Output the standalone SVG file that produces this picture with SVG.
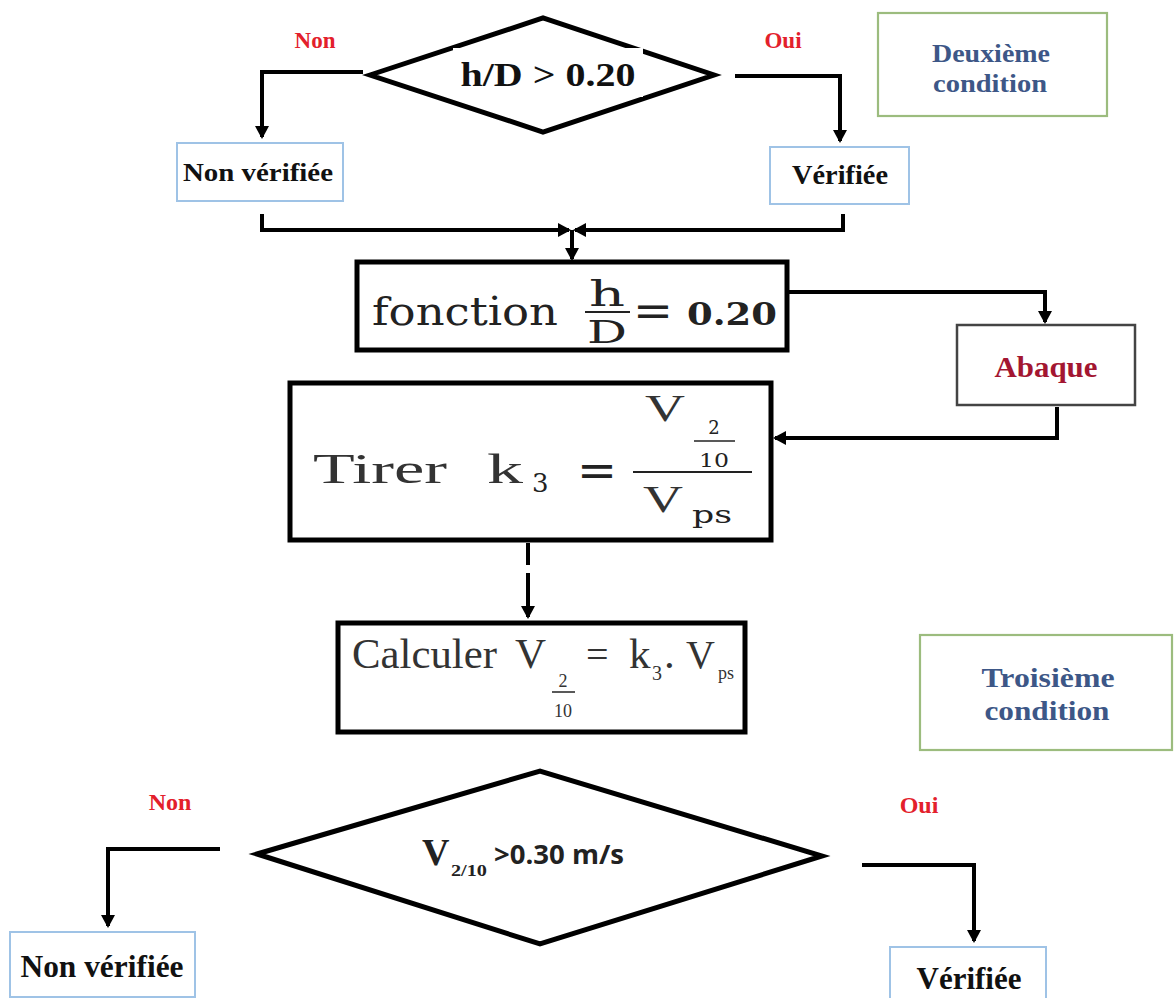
<svg xmlns="http://www.w3.org/2000/svg" width="1174" height="998" viewBox="0 0 1174 998">
  <style>
    .bg { fill: #ffffff; }
    .thick { fill: #ffffff; stroke: #000000; stroke-width: 5; }
    .diamond { fill: #ffffff; stroke: #000000; stroke-width: 5; stroke-linejoin: miter; }
    .result { fill: #ffffff; stroke: #9fc3e6; stroke-width: 2; }
    .note { fill: #ffffff; stroke: #9cbc7e; stroke-width: 2.2; }
    .plain { fill: #ffffff; stroke: #444444; stroke-width: 2.5; }
    .conn { fill: none; stroke: #000000; stroke-width: 4; marker-end: url(#arrow); }
    .line { fill: none; stroke: #000000; stroke-width: 4; }
    .bar { stroke: #222222; }
    .lbl { font-family: "Liberation Serif", "Times New Roman", serif; font-weight: bold; }
    .red { fill: #e3202b; }
    .blk { fill: #111111; }
    .slate { fill: #3d5787; }
    .math { font-family: "DejaVu Serif", "Liberation Serif", serif; fill: #222222; }
    .times { font-family: "Liberation Serif", "Times New Roman", serif; fill: #333333; }
  </style>
  <defs>
    <marker id="arrow" markerWidth="16" markerHeight="16" refX="11" refY="7" orient="auto" markerUnits="userSpaceOnUse">
      <path d="M0,0 L13,7 L0,14 Z" fill="#000000"/>
    </marker>
  </defs>

  <rect class="bg" x="0" y="0" width="1174" height="998"/>

  <!-- connectors -->
  <g id="connectors">
    <path class="conn" d="M363 72 H262 V137"/>
    <path class="conn" d="M735 76 H840 V141"/>
    <path class="conn" d="M262 214 V230 H569"/>
    <path class="conn" d="M843 214 V230 H575"/>
    <path class="conn" d="M572 230 V259"/>
    <path class="conn" d="M787 292 H1045 V322"/>
    <path class="conn" d="M1057 407 V438 H775"/>
    <path class="line" d="M528 543 V565"/>
    <path class="conn" d="M528 573 V617"/>
    <path class="conn" d="M220 849 H108 V926"/>
    <path class="conn" d="M862 865 H974 V941"/>
  </g>

  <!-- first test: h/D > 0.20 -->
  <g id="test-hD">
    <polygon class="diamond" points="370,75 543,18 714,75 543,132"/>
    <rect x="453" y="48" width="190" height="49" fill="#ffffff"/>
    <text class="lbl blk" x="548" y="86" font-size="34" text-anchor="middle" textLength="175" lengthAdjust="spacingAndGlyphs">h/D &gt; 0.20</text>
  </g>
  <g id="label-non-1"><text class="lbl red" x="315" y="48" font-size="23" text-anchor="middle">Non</text></g>
  <g id="label-oui-1"><text class="lbl red" x="783" y="48" font-size="23" text-anchor="middle">Oui</text></g>

  <g id="non-verifiee-1">
    <rect class="result" x="177" y="143" width="166" height="58"/>
    <text class="lbl blk" x="258" y="181" font-size="26" text-anchor="middle" textLength="150" lengthAdjust="spacingAndGlyphs">Non vérifiée</text>
  </g>
  <g id="verifiee-1">
    <rect class="result" x="770" y="147" width="139" height="57"/>
    <text class="lbl blk" x="840" y="184" font-size="27" text-anchor="middle" textLength="96" lengthAdjust="spacingAndGlyphs">Vérifiée</text>
  </g>

  <g id="deuxieme-condition">
    <rect class="note" x="878" y="13" width="229" height="103"/>
    <text class="lbl slate" x="991" y="62" font-size="26" text-anchor="middle" textLength="118" lengthAdjust="spacingAndGlyphs">Deuxième</text>
    <text class="lbl slate" x="990" y="92" font-size="26" text-anchor="middle" textLength="114" lengthAdjust="spacingAndGlyphs">condition</text>
  </g>

  <!-- fonction h/D = 0.20 -->
  <g id="fonction">
    <rect class="thick" x="357" y="262" width="430" height="88"/>
    <text class="math" x="372" y="325" font-size="40" textLength="186" lengthAdjust="spacingAndGlyphs">fonction</text>
    <text class="math" x="607" y="306" font-size="36" text-anchor="middle" textLength="36" lengthAdjust="spacingAndGlyphs">h</text>
    <line class="bar" x1="585" y1="312" x2="630" y2="312" stroke-width="2"/>
    <text class="math" x="607" y="343" font-size="32" text-anchor="middle" textLength="40" lengthAdjust="spacingAndGlyphs">D</text>
    <text class="math" x="633" y="326" font-size="44" textLength="40" lengthAdjust="spacingAndGlyphs">=</text>
    <text class="math" x="687" y="325" font-size="31" font-weight="bold" textLength="90" lengthAdjust="spacingAndGlyphs">0.20</text>
  </g>

  <g id="abaque">
    <rect class="plain" x="957" y="325" width="178" height="80"/>
    <text class="lbl" x="1046" y="377" font-size="29" fill="#a31631" text-anchor="middle" textLength="103" lengthAdjust="spacingAndGlyphs">Abaque</text>
  </g>

  <!-- Tirer k3 = V(2/10) / Vps -->
  <g id="tirer">
    <rect class="thick" x="290" y="383" width="481" height="157" stroke-width="6"/>
    <text class="times" x="313" y="483" font-size="42" fill="#222222" textLength="134" lengthAdjust="spacingAndGlyphs">Tirer</text>
    <text class="times" x="487" y="483" font-size="42" fill="#222222" textLength="36" lengthAdjust="spacingAndGlyphs">k</text>
    <text class="math" x="532" y="492" font-size="26">3</text>
    <text class="math" x="577" y="486" font-size="46" textLength="40" lengthAdjust="spacingAndGlyphs">=</text>
    <line class="bar" x1="633" y1="472" x2="752" y2="472" stroke-width="2"/>
    <text class="times" x="645" y="421" font-size="38" fill="#222222" textLength="40" lengthAdjust="spacingAndGlyphs">V</text>
    <text class="math" x="714" y="434" font-size="18" text-anchor="middle">2</text>
    <line class="bar" x1="694" y1="441" x2="735" y2="441" stroke-width="1.5"/>
    <text class="math" x="714" y="467" font-size="18" text-anchor="middle" textLength="30" lengthAdjust="spacingAndGlyphs">10</text>
    <text class="times" x="643" y="512" font-size="38" fill="#222222" textLength="40" lengthAdjust="spacingAndGlyphs">V</text>
    <text class="math" x="692" y="523" font-size="24" textLength="40" lengthAdjust="spacingAndGlyphs">ps</text>
  </g>

  <!-- Calculer V(2/10) = k3.Vps -->
  <g id="calculer">
    <rect class="thick" x="338" y="623" width="407" height="109"/>
    <text class="times" x="352" y="668" font-size="43" textLength="145" lengthAdjust="spacingAndGlyphs">Calculer</text>
    <text class="times" x="515" y="668" font-size="43">V</text>
    <text class="times" x="563" y="687" font-size="18" text-anchor="middle">2</text>
    <line class="bar" x1="552" y1="692" x2="575" y2="692" stroke-width="1.5"/>
    <text class="times" x="563" y="717" font-size="18" text-anchor="middle">10</text>
    <text class="times" x="586" y="668" font-size="40">=</text>
    <text class="times" x="629" y="668" font-size="43">k</text>
    <text class="times" x="652" y="680" font-size="20">3</text>
    <text class="times" x="664" y="668" font-size="43">.</text>
    <text class="times" x="686" y="668" font-size="40">V</text>
    <text class="times" x="718" y="679" font-size="18">ps</text>
  </g>

  <g id="troisieme-condition">
    <rect class="note" x="920" y="635" width="252" height="115"/>
    <text class="lbl slate" x="1048" y="687" font-size="28" text-anchor="middle" textLength="133" lengthAdjust="spacingAndGlyphs">Troisième</text>
    <text class="lbl slate" x="1047" y="720" font-size="28" text-anchor="middle" textLength="125" lengthAdjust="spacingAndGlyphs">condition</text>
  </g>

  <!-- second test: V2/10 > 0.30 m/s -->
  <g id="test-v">
    <polygon class="diamond" points="257,854 540,771 822,856 540,944"/>
    <text class="lbl" x="422" y="865" font-size="38" fill="#222222">V</text>
    <text class="lbl" x="451" y="876" font-size="17" fill="#222222" textLength="36" lengthAdjust="spacingAndGlyphs">2/10</text>
    <text x="494" y="864" font-family="'Open Sans', 'Liberation Sans', sans-serif" font-weight="bold" font-size="26" fill="#222222" textLength="130" lengthAdjust="spacingAndGlyphs">&gt;0.30 m/s</text>
  </g>
  <g id="label-non-2"><text class="lbl red" x="170" y="810" font-size="24" text-anchor="middle">Non</text></g>
  <g id="label-oui-2"><text class="lbl red" x="919" y="813" font-size="24" text-anchor="middle">Oui</text></g>

  <g id="non-verifiee-2">
    <rect class="result" x="10" y="932" width="185" height="65"/>
    <text class="lbl blk" x="102" y="977" font-size="31" text-anchor="middle" textLength="163" lengthAdjust="spacingAndGlyphs">Non vérifiée</text>
  </g>
  <g id="verifiee-2">
    <rect class="result" x="890" y="947" width="156" height="60"/>
    <text class="lbl blk" x="969" y="989" font-size="31" text-anchor="middle" textLength="105" lengthAdjust="spacingAndGlyphs">Vérifiée</text>
  </g>
</svg>
